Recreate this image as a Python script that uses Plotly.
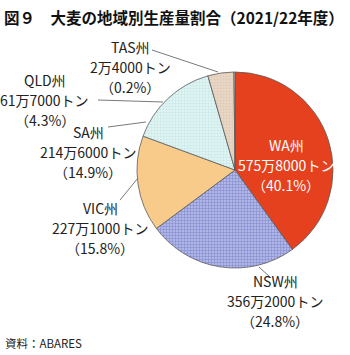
import plotly.graph_objects as go

# ---- data ----
states = ["WA", "NSW", "VIC", "SA", "QLD", "TAS"]
production_10k_t = [575.8, 356.2, 227.1, 214.6, 61.7, 2.4]   # 万トン
share_pct = [40.1, 24.8, 15.8, 14.9, 4.3, 0.2]
title_text = "図９　大麦の地域別生産量割合（2021/22年度）"
source_text = "資料：ABARES"

# ---- style ----
W, H = 350, 355
FONT = "Noto Sans CJK JP"
slice_colors = ["#E5411E", "#B0B7E6", "#F9CB8B", "#E2F4F4", "#E9D7C6", "#F2E6DA"]
pattern_shapes = ["", "+", "", ".", ".", ""]
pattern_fg = ["#E5411E", "#5E68BE", "#F9CB8B", "#A8DADA", "#D5BEA8", "#F2E6DA"]

# pie centre (px) and radius
CX, CY, R = 235, 170, 98


def px(x, y):
    return x / W, 1 - y / H


def amount_text(v):
    n = int(round(v * 10000))
    man, rest = divmod(n, 10000)
    return f"{man}万{rest}トン" if rest else f"{man}万トン"


fig = go.Figure(go.Pie(
    labels=states,
    values=production_10k_t,
    sort=False,
    direction="clockwise",
    rotation=0,
    textinfo="none",
    hoverinfo="label+value+percent",
    marker=dict(
        colors=slice_colors,
        line=dict(color="#5a5a5a", width=0.8),
        pattern=dict(shape=pattern_shapes, fgcolor=pattern_fg, size=3,
                     solidity=0.4, fillmode="overlay"),
    ),
    domain=dict(x=[(CX - R) / W, (CX + R) / W],
                y=[1 - (CY + R) / H, 1 - (CY - R) / H]),
    showlegend=False,
))

# label block positions (px: centre x, first line y) and leader lines
label_pos = {
    "WA": (286, 145),
    "NSW": (275, 281),
    "VIC": (100, 208),
    "SA": (88, 132),
    "QLD": (45, 80),
    "TAS": (130, 47),
}
leaders = {
    "NSW": ((259, 267), (271, 278)),
    "VIC": ((120, 200), (138, 178)),
    "SA": ((108, 127), (146, 122)),
    "QLD": ((98, 100), (163, 102)),
    "TAS": ((152, 50), (218, 72)),
}
LINE_H = 20

annotations = []
for s, v, p in zip(states, production_10k_t, share_pct):
    x0, y0 = label_pos[s]
    lines = [f"{s}州", amount_text(v), f"（{p}%）"]
    color = "white" if s == "WA" else "#222222"
    for i, t in enumerate(lines):
        xx, yy = px(x0, y0 + i * LINE_H)
        annotations.append(dict(
            x=xx, y=yy, xref="paper", yref="paper", text=t, showarrow=False,
            xanchor="center", yanchor="middle",
            font=dict(family=FONT, size=14, color=color),
        ))

shapes = []
for s, ((x1, y1), (x2, y2)) in leaders.items():
    a, b = px(x1, y1)
    c, d = px(x2, y2)
    shapes.append(dict(type="line", xref="paper", yref="paper",
                       x0=a, y0=b, x1=c, y1=d,
                       line=dict(color="#7a7a7a", width=1)))

tx, ty = px(2, 17)
annotations.append(dict(x=tx, y=ty, xref="paper", yref="paper", text=title_text,
                        showarrow=False, xanchor="left", yanchor="middle",
                        font=dict(family=FONT, size=15.5, color="#111111", weight="bold")))
sx, sy = px(3, 343)
annotations.append(dict(x=sx, y=sy, xref="paper", yref="paper", text=source_text,
                        showarrow=False, xanchor="left", yanchor="middle",
                        font=dict(family=FONT, size=11.5, color="#222222")))

fig.update_layout(
    width=W, height=H,
    margin=dict(l=0, r=0, t=0, b=0),
    paper_bgcolor="white",
    plot_bgcolor="white",
    annotations=annotations,
    shapes=shapes,
)

fig.write_html("out.html", include_plotlyjs=True, config={"displayModeBar": False})
